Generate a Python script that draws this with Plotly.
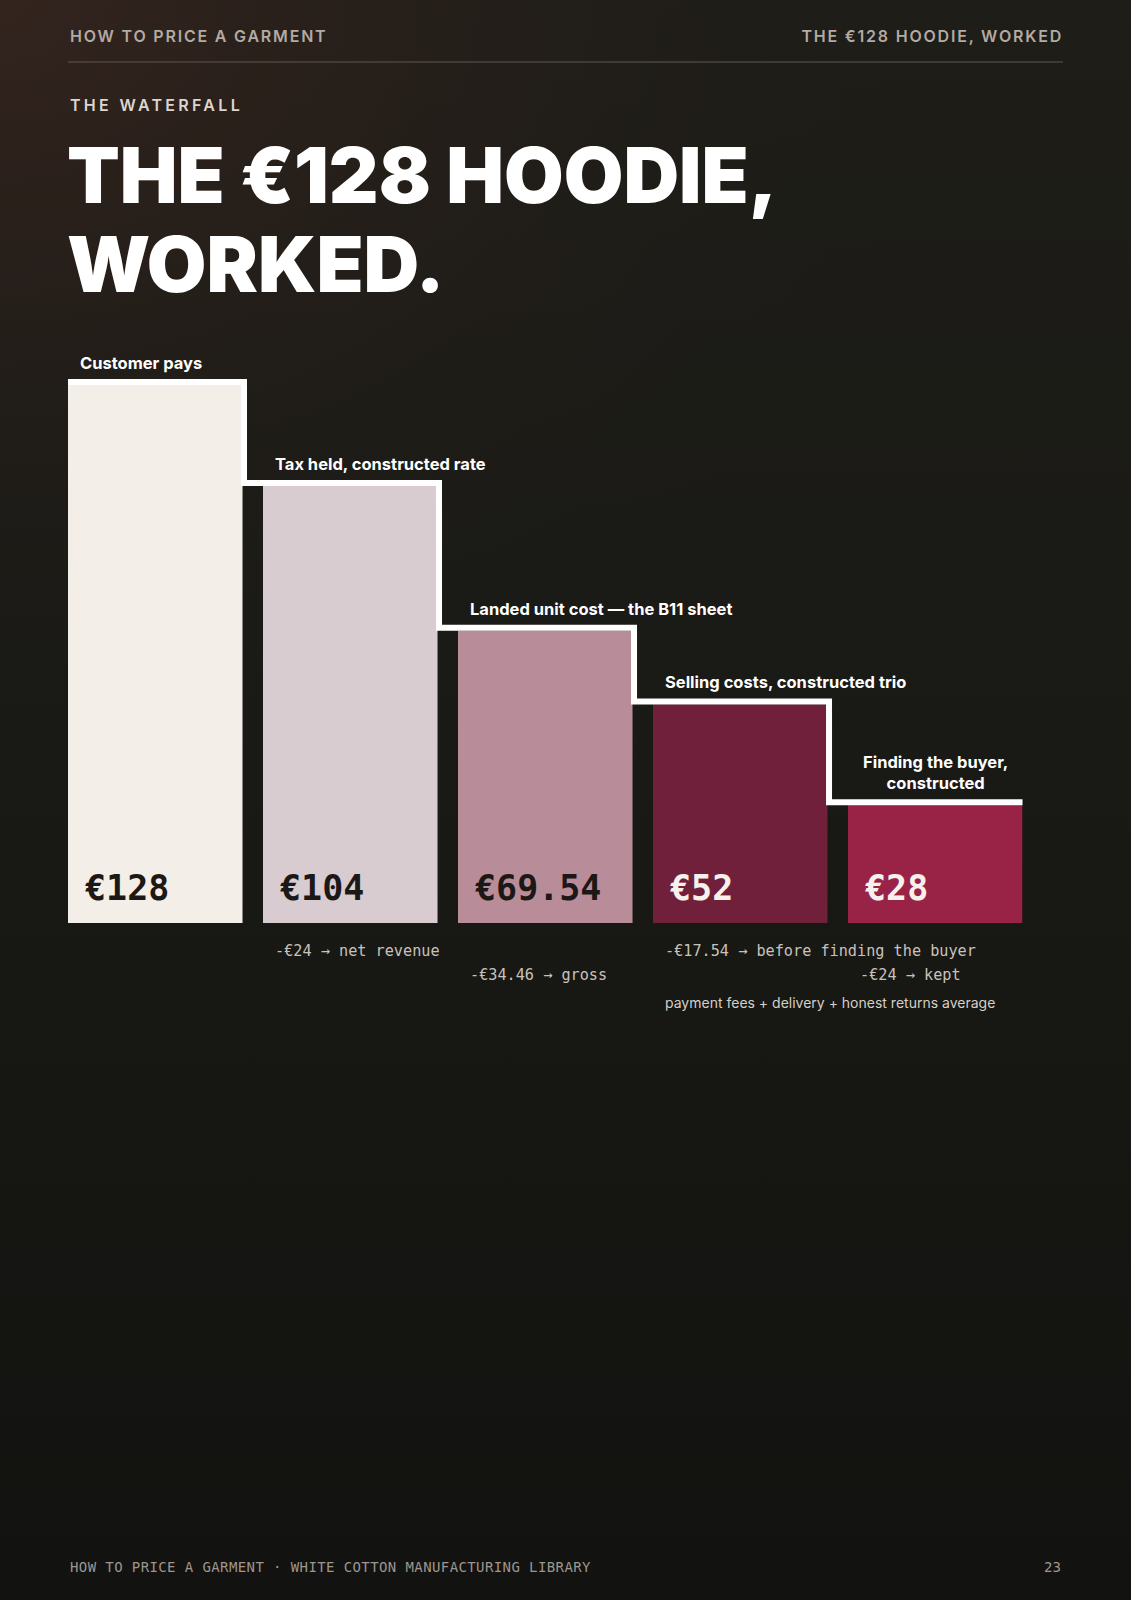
import json

import plotly.graph_objects as go

# waterfall data
stages = [
    "Customer pays",
    "Tax held, constructed rate",
    "Landed unit cost — the B11 sheet",
    "Selling costs, constructed trio",
    "Finding the buyer,<br>constructed",
]
values = [128, 104, 69.54, 52, 28]
value_labels = ["€128", "€104", "€69.54", "€52", "€28"]
step_notes = ["", "-€24 → net revenue", "-€34.46 → gross", "-€17.54 → before finding the buyer", "-€24 → kept"]
extra_note = "payment fees + delivery + honest returns average"

bar_colors = ["#f3eee8", "#d8ccd1", "#b98c99", "#70203a", "#992347"]
value_colors = ["#1c1815", "#1c1815", "#1c1815", "#f6f1ec", "#f6f1ec"]

W, H = 1131, 1600
BAR_W = 0.895
PITCH = 195  # px per category
LEFT, BOTTOM = 68, 923
PX_PER_UNIT = 4.203
Y_MAX = 140
LINE_W = 6

SANS = "Inter, Noto Sans, sans-serif"
MONO = "DejaVu Sans Mono, monospace"


def px_x(p):
    return p / W


def px_y(p):
    return 1 - p / H


fig = go.Figure()

# background: vertical base + warm glow in the top-left corner
fig.add_trace(go.Scatter(
    x=[0, 1, 1, 0, 0], y=[0, 0, 1, 1, 0], mode="lines", line=dict(width=0),
    fill="toself", fillgradient=dict(type="vertical", colorscale=[[0, "#121210"], [0.6, "#1a1a16"], [1, "#1e1d18"]]),
    hoverinfo="skip", showlegend=False, xaxis="x", yaxis="y",
))
fig.add_trace(go.Scatter(
    x=[-0.85, 0.85, 0.85, -0.85, -0.85], y=[0.55, 0.55, 1.45, 1.45, 0.55], mode="lines", line=dict(width=0),
    fill="toself",
    fillgradient=dict(type="radial", colorscale=[
        [0, "rgba(52,36,30,1)"], [0.45, "rgba(42,32,27,0.6)"], [1, "rgba(30,29,24,0)"]]),
    hoverinfo="skip", showlegend=False, xaxis="x", yaxis="y",
))

idx = list(range(len(values)))
fig.add_trace(go.Bar(
    x=idx, y=values, width=BAR_W, marker=dict(color=bar_colors, line=dict(width=0)),
    hoverinfo="skip", showlegend=False, xaxis="x2", yaxis="y2",
))

# white step line over the bar tops
off_y = (LINE_W / 2) / PX_PER_UNIT
off_x = 1.5 / PITCH
line_x = [-BAR_W / 2] + [i + BAR_W / 2 + off_x for i in idx]
line_y = [v + off_y for v in values] + [values[-1] + off_y]
fig.add_trace(go.Scatter(
    x=line_x, y=line_y, mode="lines", line=dict(color="#ffffff", width=LINE_W, shape="hv"),
    cliponaxis=False, hoverinfo="skip", showlegend=False, xaxis="x2", yaxis="y2",
))

ann = []
for i, (name, v) in enumerate(zip(stages, values)):
    centered = "<br>" in name
    ann.append(dict(
        x=i if centered else i - BAR_W / 2, y=v, xref="x2", yref="y2",
        text=name, showarrow=False, xanchor="center" if centered else "left", yanchor="bottom",
        align="center", xshift=0 if centered else 10, yshift=10,
        font=dict(family=SANS, size=16.5, color="#ffffff", weight=700),
    ))
    ann.append(dict(
        x=i - BAR_W / 2, y=0, xref="x2", yref="y2", text=value_labels[i], showarrow=False,
        xanchor="left", yanchor="bottom", xshift=15, yshift=13,
        font=dict(family=MONO, size=35, color=value_colors[i], weight=700),
    ))
    if step_notes[i]:
        row = 0 if i % 2 == 1 else 1
        ann.append(dict(
            x=i - BAR_W / 2, y=0, xref="x2", yref="y2", text=step_notes[i], showarrow=False,
            xanchor="left", yanchor="middle", xshift=10, yshift=-28 - 24 * row,
            font=dict(family=MONO, size=15.2, color="#c9c2bb"),
        ))
ann.append(dict(
    x=3 - BAR_W / 2, y=0, xref="x2", yref="y2", text=extra_note, showarrow=False,
    xanchor="left", yanchor="middle", xshift=10, yshift=-80,
    font=dict(family=SANS, size=14, color="#d6cfc8"),
))

# page furniture; tracked = annotation index -> (letter spacing px, anchor)
tracked = {}


def page_text(x, y, text, anchor, font, spacing=0):
    if spacing:
        tracked[len(ann)] = (spacing, anchor)
    ann.append(dict(x=px_x(x), y=px_y(y), xref="paper", yref="paper", text=text, showarrow=False,
                    xanchor=anchor, yanchor="middle", align="left", font=font))


head_font = dict(family=SANS, size=16, color="#b3aaa3", weight=600)
foot_font = dict(family=MONO, size=14, color="#9d968f")
title_font = dict(family=SANS, size=77, color="#ffffff", weight=900)

page_text(68, 36, "HOW TO PRICE A GARMENT", "left", head_font, 1.8)
page_text(1063, 36, "THE €128 HOODIE, WORKED", "right", head_font, 1.8)
page_text(68, 105, "THE WATERFALL", "left", dict(family=SANS, size=16, color="#ddd5cf", weight=600), 3.3)
page_text(65, 175, "THE €128 HOODIE,", "left", title_font)
page_text(65, 264, "WORKED.", "left", title_font)
page_text(68, 1567, "HOW TO PRICE A GARMENT · WHITE COTTON MANUFACTURING LIBRARY", "left", foot_font, 0.4)
page_text(1063, 1567, "23", "right", foot_font)

plot_w = (len(values) - 1 + BAR_W) * PITCH
fig.update_layout(
    width=W, height=H, margin=dict(l=0, r=0, t=0, b=0),
    paper_bgcolor="#171714", plot_bgcolor="rgba(0,0,0,0)",
    xaxis=dict(domain=[0, 1], range=[0, 1], visible=False, fixedrange=True),
    yaxis=dict(domain=[0, 1], range=[0, 1], visible=False, fixedrange=True),
    xaxis2=dict(domain=[px_x(LEFT), px_x(LEFT + plot_w)], range=[-BAR_W / 2, len(values) - 1 + BAR_W / 2],
                visible=False, fixedrange=True),
    yaxis2=dict(domain=[px_y(BOTTOM), px_y(BOTTOM - Y_MAX * PX_PER_UNIT)], range=[0, Y_MAX],
                visible=False, fixedrange=True),
    annotations=ann,
    shapes=[dict(type="line", xref="paper", yref="paper", x0=px_x(68), x1=px_x(1063),
                 y0=px_y(62), y1=px_y(62), line=dict(color="#5f5751", width=1.2))],
)

# letter-spaced caps: widen the text, keep the anchored edge in place
post = """
document.body.style.margin = '0';
var gd = document.getElementById('{plot_id}');
var spec = %s;
Object.keys(spec).forEach(function (k) {
  var el = gd.querySelector('.annotation[data-index="' + k + '"] text');
  if (!el) return;
  var b0 = el.getBBox();
  el.style.letterSpacing = spec[k][0] + 'px';
  var b1 = el.getBBox();
  var dx = spec[k][1] === 'left' ? b0.x - b1.x : (b0.x + b0.width) - (b1.x + b1.width) + spec[k][0];
  var t = el.getAttribute('transform') || '';
  el.setAttribute('transform', t + ' translate(' + dx + ',0)');
});
""" % json.dumps(tracked)

fig.write_html("out.html", post_script=post, config={"displayModeBar": False, "staticPlot": True})
